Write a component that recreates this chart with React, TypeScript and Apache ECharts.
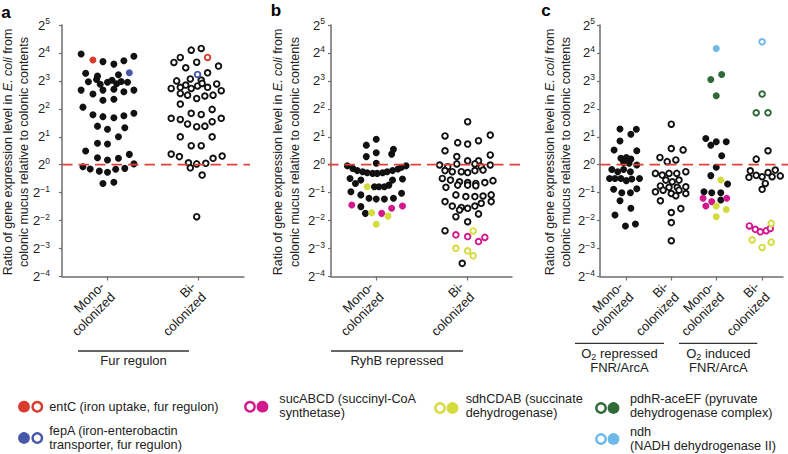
import React, { useEffect, useRef } from 'react';
import * as echarts from 'echarts';

type P = [number, number]; // [jitter offset within category (category widths), log2 ratio]

// ---------- Panel a: Fur regulon ----------
const furMono: P[] = [
  [-0.29, 3.96], [-0.05, 3.69], [0.07, 3.6], [0.18, 3.72], [0.29, 3.88],
  [-0.24, 3.27], [-0.11, 3.17], [0.12, 3.22],
  [-0.21, 2.97], [-0.12, 3.05], [-0.08, 2.88], [0.0, 2.95], [0.05, 3.02], [0.1, 2.9], [0.15, 2.98], [0.22, 2.95],
  [-0.29, 2.67], [-0.16, 2.53], [-0.05, 2.67], [0.07, 2.7], [0.18, 2.61], [0.29, 2.67],
  [-0.05, 2.31], [0.07, 2.34],
  [-0.27, 2.06],
  [-0.16, 1.79], [-0.05, 1.72], [0.07, 1.68], [0.18, 1.75], [0.29, 1.84],
  [-0.11, 1.38], [0.0, 1.27], [0.19, 1.32],
  [0.12, 1.0],
  [-0.11, 0.77], [0.0, 0.74],
  [-0.24, 0.49],
  [-0.11, 0.25], [0.0, 0.17], [0.12, 0.23], [0.24, 0.37],
  [0.29, 0.03],
  [-0.27, -0.07], [-0.19, -0.15], [-0.09, -0.23], [0.0, -0.27], [0.09, -0.16], [0.19, -0.13],
  [-0.05, -0.67], [0.07, -0.63],
];
const furMonoEntC: P[] = [[-0.16, 3.75]];
const furMonoFepA: P[] = [[0.24, 3.29]];
const furBi: P[] = [
  [-0.08, 4.1], [0.03, 4.16],
  [-0.27, 3.66], [-0.2, 3.84], [-0.14, 3.47], [-0.02, 3.67], [0.22, 3.53],
  [0.1, 3.29],
  [-0.24, 3.0], [-0.09, 3.07], [0.03, 3.03],
  [-0.3, 2.73], [-0.2, 2.77], [-0.14, 2.85], [-0.08, 2.73], [-0.01, 2.82], [0.04, 2.91], [0.1, 2.77], [0.2, 2.89], [0.25, 2.65],
  [-0.2, 2.55], [-0.12, 2.49], [-0.02, 2.37], [0.07, 2.46], [0.16, 2.49],
  [-0.2, 2.17],
  [-0.08, 1.84], [0.03, 1.8], [0.15, 1.98],
  [-0.3, 1.66], [-0.2, 1.62], [-0.12, 1.46], [-0.02, 1.36], [0.07, 1.38], [0.15, 1.54], [0.25, 1.66],
  [-0.2, 1.0], [0.15, 1.0],
  [-0.08, 0.68], [0.03, 0.68],
  [-0.3, 0.38], [-0.21, 0.29], [-0.11, 0.07], [-0.09, -0.11], [-0.02, 0.03], [0.08, 0.05], [0.16, 0.23], [0.26, 0.31],
  [0.04, -0.37],
  [-0.02, -1.86],
];
const furBiEntC: P[] = [[0.1, 3.84]];
const furBiFepA: P[] = [[-0.01, 3.23]];

// ---------- Panel b: RyhB repressed ----------
const ryhbMono: P[] = [
  [0.0, 0.91], [-0.11, 0.7], [0.19, 0.55], [-0.11, 0.29], [0.0, 0.43], [0.17, 0.38], [0.0, 0.05],
  [-0.32, -0.04], [-0.26, -0.13], [-0.21, -0.21], [-0.15, -0.25], [-0.1, -0.29], [-0.04, -0.31], [0.01, -0.31],
  [0.07, -0.29], [0.12, -0.25], [0.18, -0.21], [0.24, -0.15], [0.28, -0.09], [0.33, -0.04],
  [-0.29, -0.49], [-0.23, -0.67], [-0.17, -0.55], [0.18, -0.55], [0.29, -0.51],
  [-0.02, -0.79], [0.03, -0.79], [0.09, -0.79], [0.14, -0.73],
  [-0.28, -0.97], [-0.17, -1.08], [-0.08, -1.2], [0.0, -1.23], [0.09, -1.23], [0.19, -1.2], [0.28, -1.02],
  [-0.17, -1.5], [-0.12, -1.74],
];
const ryhbMonoSuc: P[] = [[-0.27, -1.44], [0.06, -1.74], [0.17, -1.56], [0.29, -1.48]];
const ryhbMonoSdh: P[] = [[-0.1, -0.79], [-0.05, -1.72], [0.13, -1.84], [0.0, -2.13]];
const ryhbBi: P[] = [
  [0.01, 1.54],
  [-0.24, 1.03], [-0.1, 0.79], [0.01, 0.74], [0.13, 0.86], [0.26, 1.06],
  [-0.24, 0.5], [-0.11, 0.29], [0.26, 0.35], [0.01, 0.14], [0.13, 0.14],
  [-0.3, -0.01], [-0.21, -0.07], [-0.11, 0.03], [0.09, 0.03], [0.16, -0.07], [0.26, -0.01],
  [-0.24, -0.21], [-0.16, -0.25], [-0.06, -0.25], [0.01, -0.28], [0.09, -0.21], [0.18, -0.19],
  [-0.27, -0.49], [-0.18, -0.55], [-0.08, -0.61], [0.01, -0.64], [0.1, -0.67], [0.2, -0.64], [0.29, -0.57],
  [-0.23, -0.81], [-0.1, -0.73], [0.01, -0.73], [0.1, -0.75],
  [-0.12, -1.08], [-0.01, -1.14], [0.09, -1.14], [0.18, -1.12], [0.27, -1.08],
  [-0.24, -1.32], [-0.16, -1.48], [-0.06, -1.53], [0.01, -1.56], [0.09, -1.48], [0.16, -1.38], [0.27, -1.32],
  [-0.08, -1.62], [0.13, -1.76], [-0.12, -1.86], [0.01, -2.04],
  [-0.24, -2.36],
  [-0.05, -3.53],
];
const ryhbBiSuc: P[] = [[-0.12, -2.51], [0.01, -2.57], [0.13, -2.75], [0.2, -2.6]];
const ryhbBiSdh: P[] = [[0.07, -2.37], [-0.12, -2.99], [0.01, -3.08], [0.07, -3.26]];

// ---------- Panel c: FNR/ArcA ----------
const o2RepMono: P[] = [
  [-0.13, 1.28], [0.23, 1.27], [0.11, 1.09], [-0.13, 0.85], [-0.26, 0.53], [0.24, 0.5],
  [-0.11, 0.23], [0.01, 0.26], [0.11, 0.2], [-0.05, 0.07], [0.07, 0.05], [0.24, -0.01],
  [-0.31, -0.17], [-0.18, -0.25], [-0.05, -0.17], [0.1, -0.25],
  [-0.36, -0.49], [-0.24, -0.49], [-0.11, -0.49], [0.01, -0.57], [0.13, -0.51], [0.3, -0.49],
  [-0.27, -0.88], [-0.09, -1.0], [0.1, -1.0], [0.24, -0.86],
  [-0.13, -1.29], [0.11, -1.56], [-0.24, -1.8], [-0.01, -2.19], [0.21, -2.12],
];
const o2RepBi: P[] = [
  [0.0, 1.45], [0.0, 0.58], [0.26, 0.53], [-0.25, 0.26], [-0.09, 0.11], [0.1, 0.17],
  [-0.35, -0.31], [-0.2, -0.37], [-0.05, -0.31], [0.12, -0.31], [0.32, -0.25],
  [-0.12, -0.55], [0.02, -0.61], [0.17, -0.55],
  [-0.24, -0.76], [-0.05, -0.81], [0.13, -0.81], [0.32, -0.79],
  [-0.35, -0.97], [-0.18, -0.91], [0.0, -1.03], [0.17, -0.91], [0.32, -1.03],
  [-0.24, -1.29], [0.1, -1.11], [0.0, -1.71], [0.21, -1.57], [0.0, -2.07], [0.0, -2.72],
];
const o2IndMono: P[] = [
  [-0.24, 0.94], [-0.13, 0.7], [-0.01, 0.82], [0.21, 0.82], [0.11, 0.32], [-0.01, -0.09],
  [-0.13, -0.39], [0.24, -0.69], [-0.28, -0.97], [-0.11, -1.0], [0.09, -1.0], [0.09, -1.26],
];
const o2IndMonoNdh: P[] = [[-0.01, 4.16]];
const o2IndMonoPdh: P[] = [[-0.13, 3.05], [0.11, 3.23], [-0.01, 2.47]];
const o2IndMonoSuc: P[] = [[-0.3, -1.2], [-0.11, -1.32], [-0.24, -1.48], [0.22, -1.2]];
const o2IndMonoSdh: P[] = [[0.09, -0.55], [-0.01, -1.48], [0.21, -1.6], [-0.01, -1.86]];
const o2IndBi: P[] = [
  [0.13, 0.5], [-0.13, 0.2],
  [-0.29, -0.45], [-0.26, -0.22], [-0.13, -0.38], [0.0, -0.43], [0.13, -0.28], [0.22, -0.43],
  [0.29, -0.19], [0.4, -0.4], [0.07, -0.67], [0.0, -0.88],
];
const o2IndBiNdh: P[] = [[0.0, 4.4]];
const o2IndBiPdh: P[] = [[0.0, 2.53], [-0.13, 1.86], [0.13, 1.86]];
const o2IndBiSuc: P[] = [[-0.28, -2.19], [-0.15, -2.31], [-0.04, -2.4], [0.09, -2.36], [0.18, -2.28]];
const o2IndBiSdh: P[] = [[0.2, -2.1], [-0.22, -2.69], [0.0, -2.96], [0.2, -2.77]];

// ---------- axes ----------
const catLabelsAB = ['Mono-\ncolonized', 'Bi-\ncolonized'];
const catLabelsC = ['Mono-\ncolonized', 'Bi-\ncolonized', 'Mono-\ncolonized', 'Bi-\ncolonized'];
const yMin = -4; // 2^-4
const yMax = 5; // 2^5
const refLog2 = 0; // ratio 1 = 2^0

const FONT = '"Liberation Sans", Arial, Helvetica, sans-serif';
const C = {
  black: '#111111',
  red: '#d93b2f',
  blue: '#4758a8',
  magenta: '#d3188d',
  yellow: '#d4db3c',
  green: '#2f6a37',
  lightBlue: '#6cb9ea',
  axis: '#6e6e6e',
  text: '#222222',
  dash: '#e0413b',
};

function buildOption() {
  const series: any[] = [];
  const add = (data: P[], cat: number, idx: number, color: string, hollow: boolean) => {
    series.push({
      type: 'scatter',
      xAxisIndex: idx,
      yAxisIndex: idx,
      silent: true,
      symbol: 'circle',
      symbolSize: hollow ? 5.6 : 7,
      data: data.map(([o, v]) => [cat + o, v]),
      itemStyle: hollow
        ? { color: '#ffffff', borderColor: color, borderWidth: 1.9, opacity: 1 }
        : { color, opacity: 1 },
      z: 2,
    });
  };
  // a
  add(furMono, 1, 0, C.black, false);
  add(furMonoEntC, 1, 0, C.red, false);
  add(furMonoFepA, 1, 0, C.blue, false);
  add(furBi, 2, 0, C.black, true);
  add(furBiEntC, 2, 0, C.red, true);
  add(furBiFepA, 2, 0, C.blue, true);
  // b
  add(ryhbMono, 1, 1, C.black, false);
  add(ryhbMonoSuc, 1, 1, C.magenta, false);
  add(ryhbMonoSdh, 1, 1, C.yellow, false);
  add(ryhbBi, 2, 1, C.black, true);
  add(ryhbBiSuc, 2, 1, C.magenta, true);
  add(ryhbBiSdh, 2, 1, C.yellow, true);
  // c
  add(o2RepMono, 1, 2, C.black, false);
  add(o2RepBi, 2, 2, C.black, true);
  add(o2IndMono, 3, 2, C.black, false);
  add(o2IndMonoNdh, 3, 2, C.lightBlue, false);
  add(o2IndMonoPdh, 3, 2, C.green, false);
  add(o2IndMonoSuc, 3, 2, C.magenta, false);
  add(o2IndMonoSdh, 3, 2, C.yellow, false);
  add(o2IndBi, 4, 2, C.black, true);
  add(o2IndBiNdh, 4, 2, C.lightBlue, true);
  add(o2IndBiPdh, 4, 2, C.green, true);
  add(o2IndBiSuc, 4, 2, C.magenta, true);
  add(o2IndBiSdh, 4, 2, C.yellow, true);

  // dashed reference lines at ratio 1
  [3, 4, 5].forEach((idx) => {
    series.push({
      type: 'line',
      xAxisIndex: idx,
      yAxisIndex: idx,
      silent: true,
      symbol: 'none',
      data: [[0, refLog2], [1, refLog2]],
      lineStyle: { color: C.dash, width: 1.8, type: [10.5, 6] },
      z: 5,
    });
  });

  const top = 25;
  const height = 251.5;
  const grid = [
    { left: 62, top, width: 182, height },
    { left: 331, top, width: 181, height },
    { left: 600, top, width: 183, height },
    { left: 62, top, width: 188, height },
    { left: 328, top, width: 197, height },
    { left: 600, top, width: 188, height },
  ];

  const yAxis = (gridIndex: number, margin: number, show = true) => ({
    type: 'value',
    gridIndex,
    min: yMin,
    max: yMax,
    interval: 1,
    show,
    axisLine: { show: true, lineStyle: { color: C.axis, width: 1.5 } },
    axisTick: { show: true, length: 3, lineStyle: { color: C.axis, width: 1.2 } },
    splitLine: { show: false },
    axisLabel: {
      margin,
      formatter: (v: number) => `{b|2}{s|${v < 0 ? '\u2212' + -v : v}}`,
      rich: {
        b: { fontSize: 13, lineHeight: 17, color: C.text, fontFamily: FONT },
        s: { fontSize: 8.5, lineHeight: 7, verticalAlign: 'top', color: C.text, fontFamily: FONT },
      },
    },
  });

  const xAxis = (gridIndex: number, min: number, max: number, labels: string[]) => ({
    type: 'value',
    gridIndex,
    min,
    max,
    axisLine: { show: true, onZero: false, lineStyle: { color: C.axis, width: 1.5 } },
    axisTick: {
      show: true,
      length: 4,
      customValues: labels.map((_, i) => i + 1),
      lineStyle: { color: C.axis, width: 1.2 },
    },
    splitLine: { show: false },
    axisLabel: {
      customValues: labels.map((_, i) => i + 1),
      formatter: (v: number) => labels[Math.round(v) - 1] ?? '',
      rotate: 45,
      margin: 13,
      fontSize: 13,
      lineHeight: 15,
      color: C.text,
      fontFamily: FONT,
    },
  });

  const hiddenX = (gridIndex: number) => ({ type: 'value', gridIndex, min: 0, max: 1, show: false });

  const yTitle = (x1: number, x2: number) => [
    {
      type: 'text',
      x: x1,
      y: 152,
      rotation: Math.PI / 2,
      silent: true,
      style: {
        text: '{n|Ratio of gene expression level in }{i|E. coli}{n| from}',
        align: 'center',
        verticalAlign: 'middle',
        rich: {
          n: { fontSize: 12.5, fontFamily: FONT, fill: C.text },
          i: { fontSize: 12.5, fontFamily: FONT, fontStyle: 'italic', fill: C.text },
        },
      },
    },
    {
      type: 'text',
      x: x2,
      y: 152,
      rotation: Math.PI / 2,
      silent: true,
      style: {
        text: 'colonic mucus relative to colonic contents',
        align: 'center',
        verticalAlign: 'middle',
        fontSize: 12.5,
        fontFamily: FONT,
        fill: C.text,
      },
    },
  ];

  const txt = (x: number, y: number, text: string, extra: any = {}) => ({
    type: 'text',
    x,
    y,
    silent: true,
    style: {
      text,
      align: 'center',
      verticalAlign: 'middle',
      fontSize: 13,
      fontFamily: FONT,
      fill: C.text,
      ...extra,
    },
  });
  const hline = (x1: number, x2: number, y: number) => ({
    type: 'line',
    silent: true,
    shape: { x1, y1: y, x2, y2: y },
    style: { stroke: '#333', lineWidth: 1.3 },
  });
  const o2 = (rest: string) => ({
    text: `{n|O}{sub|2}{n|${rest}}`,
    rich: {
      n: { fontSize: 13, lineHeight: 16, fontFamily: FONT, fill: C.text },
      sub: { fontSize: 9, lineHeight: 8, verticalAlign: 'bottom', fontFamily: FONT, fill: C.text },
    },
  });

  const legendItems = [
    { cx: 24, cy: 406.7, first: 'fill', color: C.red, tx: 49.3, ty: 406.7, text: 'entC (iron uptake, fur regulon)' },
    { cx: 24, cy: 438, first: 'fill', color: C.blue, tx: 49.3, ty: 437.8, text: 'fepA (iron-enterobactin\ntransporter, fur regulon)' },
    { cx: 250, cy: 406.7, first: 'hollow', color: C.magenta, tx: 279.3, ty: 406.3, text: 'sucABCD (succinyl-CoA\nsynthetase)' },
    { cx: 440, cy: 408, first: 'hollow', color: C.yellow, tx: 465.7, ty: 406.3, text: 'sdhCDAB (succinate\ndehydrogenase)' },
    { cx: 601, cy: 408, first: 'hollow', color: C.green, tx: 630, ty: 405.8, text: 'pdhR-aceEF (pyruvate\ndehydrogenase complex)' },
    { cx: 601, cy: 439, first: 'hollow', color: C.lightBlue, tx: 630, ty: 439, text: 'ndh\n(NADH dehydrogenase II)' },
  ];
  const legendEls: any[] = [];
  legendItems.forEach((it) => {
    const filled = (x: number) => ({
      type: 'circle', silent: true, shape: { cx: x, cy: it.cy, r: 5.9 }, style: { fill: it.color },
    });
    const hollow = (x: number) => ({
      type: 'circle', silent: true, shape: { cx: x, cy: it.cy, r: 4.7 },
      style: { fill: '#fff', stroke: it.color, lineWidth: 2.4 },
    });
    if (it.first === 'fill') {
      legendEls.push(filled(it.cx), hollow(it.cx + 13.3));
    } else {
      legendEls.push(hollow(it.cx), filled(it.cx + 12.5));
    }
    legendEls.push(txt(it.tx, it.ty, it.text, { align: 'left', fontSize: 12.7, lineHeight: 13.8 }));
  });

  const graphic: any[] = [
    txt(6, 12, 'a', { fontSize: 17, fontWeight: 'bold', fill: '#000' }),
    txt(276, 10.8, 'b', { fontSize: 17, fontWeight: 'bold', fill: '#000' }),
    txt(546, 10, 'c', { fontSize: 17, fontWeight: 'bold', fill: '#000' }),
    ...yTitle(8, 24),
    ...yTitle(278, 295),
    ...yTitle(550, 566),
    hline(78, 189, 351),
    txt(133.5, 360, 'Fur regulon'),
    hline(331, 463, 351),
    txt(397, 360, 'RyhB repressed'),
    hline(575, 664, 343.3),
    txt(619.5, 353, '', o2(' repressed')),
    txt(619.5, 367.5, 'FNR/ArcA'),
    hline(679, 757.3, 343.3),
    txt(718.3, 353, '', o2(' induced')),
    txt(718.3, 367.5, 'FNR/ArcA'),
    ...legendEls,
  ];

  return {
    animation: false,
    backgroundColor: '#ffffff',
    textStyle: { fontFamily: FONT },
    grid,
    xAxis: [
      xAxis(0, 0.5, 2.5, catLabelsAB),
      xAxis(1, 0.5, 2.5, catLabelsAB),
      xAxis(2, 0.43, 4.46, catLabelsC),
      hiddenX(3),
      hiddenX(4),
      hiddenX(5),
    ],
    yAxis: [
      yAxis(0, 12),
      yAxis(1, 6),
      yAxis(2, 5),
      { ...yAxis(3, 0, false) },
      { ...yAxis(4, 0, false) },
      { ...yAxis(5, 0, false) },
    ],
    series,
    graphic,
  };
}

export default function App() {
  const ref = useRef<HTMLDivElement>(null);
  useEffect(() => {
    if (!ref.current) return;
    const chart = echarts.init(ref.current, null, { renderer: 'svg' });
    chart.setOption(buildOption() as any);
    return () => chart.dispose();
  }, []);
  return (
    <div
      ref={ref}
      style={{ position: 'fixed', left: 0, top: 0, width: 788, height: 454, background: '#fff' }}
    />
  );
}
